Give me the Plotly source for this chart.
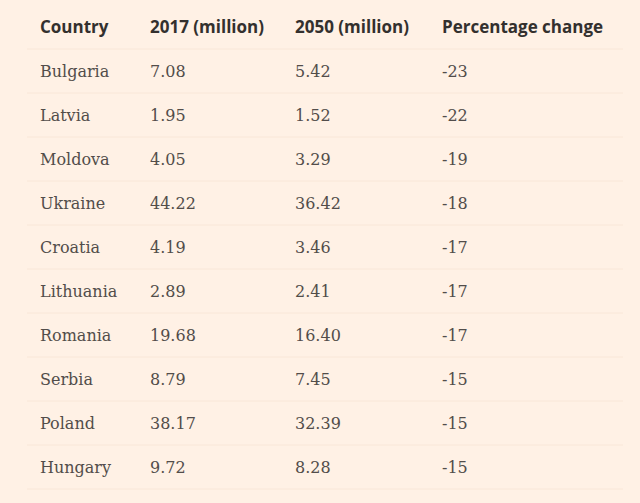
import plotly.graph_objects as go

# table data
headers = ["Country", "2017 (million)", "2050 (million)", "Percentage change"]
countries = ["Bulgaria", "Latvia", "Moldova", "Ukraine", "Croatia",
             "Lithuania", "Romania", "Serbia", "Poland", "Hungary"]
pop_2017 = ["7.08", "1.95", "4.05", "44.22", "4.19", "2.89", "19.68", "8.79", "38.17", "9.72"]
pop_2050 = ["5.42", "1.52", "3.29", "36.42", "3.46", "2.41", "16.40", "7.45", "32.39", "8.28"]
pct_change = ["-23", "-22", "-19", "-18", "-17", "-17", "-17", "-15", "-15", "-15"]

# layout (pixel units on the x axis, row index on the y axis)
W, H = 640, 503
col_x = [40, 150, 295, 442]
row_h = 44
top = 27
line_x0, line_x1 = 27, 623
text_shift = 0.05  # text sits a touch below row centre

BG = "#FFF1E5"
HEAD_COLOR = "#33302E"
BODY_COLOR = "#524D4A"
LINE_COLOR = "#F9E7D8"

columns = [countries, pop_2017, pop_2050, pct_change]
rows_y = [i + 1 + text_shift for i in range(len(countries))]

fig = go.Figure()

# header
fig.add_trace(go.Scatter(
    x=col_x, y=[text_shift] * len(headers), text=headers,
    mode="text", textposition="middle right",
    textfont=dict(family="Open Sans", size=17, color=HEAD_COLOR, weight="bold"),
    hoverinfo="skip", showlegend=False))

# body columns
for cx, col in zip(col_x, columns):
    fig.add_trace(go.Scatter(
        x=[cx] * len(col), y=rows_y, text=col,
        mode="text", textposition="middle right",
        textfont=dict(family="DejaVu Serif", size=16, color=BODY_COLOR),
        hoverinfo="skip", showlegend=False))

# row separators
for i in range(len(countries) + 1):
    fig.add_shape(type="line", xref="x", yref="y",
                  x0=line_x0, x1=line_x1, y0=i + 0.5, y1=i + 0.5,
                  line=dict(color=LINE_COLOR, width=1), layer="below")

fig.update_layout(
    width=W, height=H,
    margin=dict(l=0, r=0, t=0, b=0),
    paper_bgcolor=BG, plot_bgcolor=BG,
    xaxis=dict(range=[0, W], visible=False, fixedrange=True),
    yaxis=dict(range=[(H - top) / row_h, -top / row_h], visible=False, fixedrange=True),
)

fig.write_html("out.html", config={"displayModeBar": False},
               post_script="document.body.style.margin='0';"
                           "document.body.style.background='#FFF1E5';")
